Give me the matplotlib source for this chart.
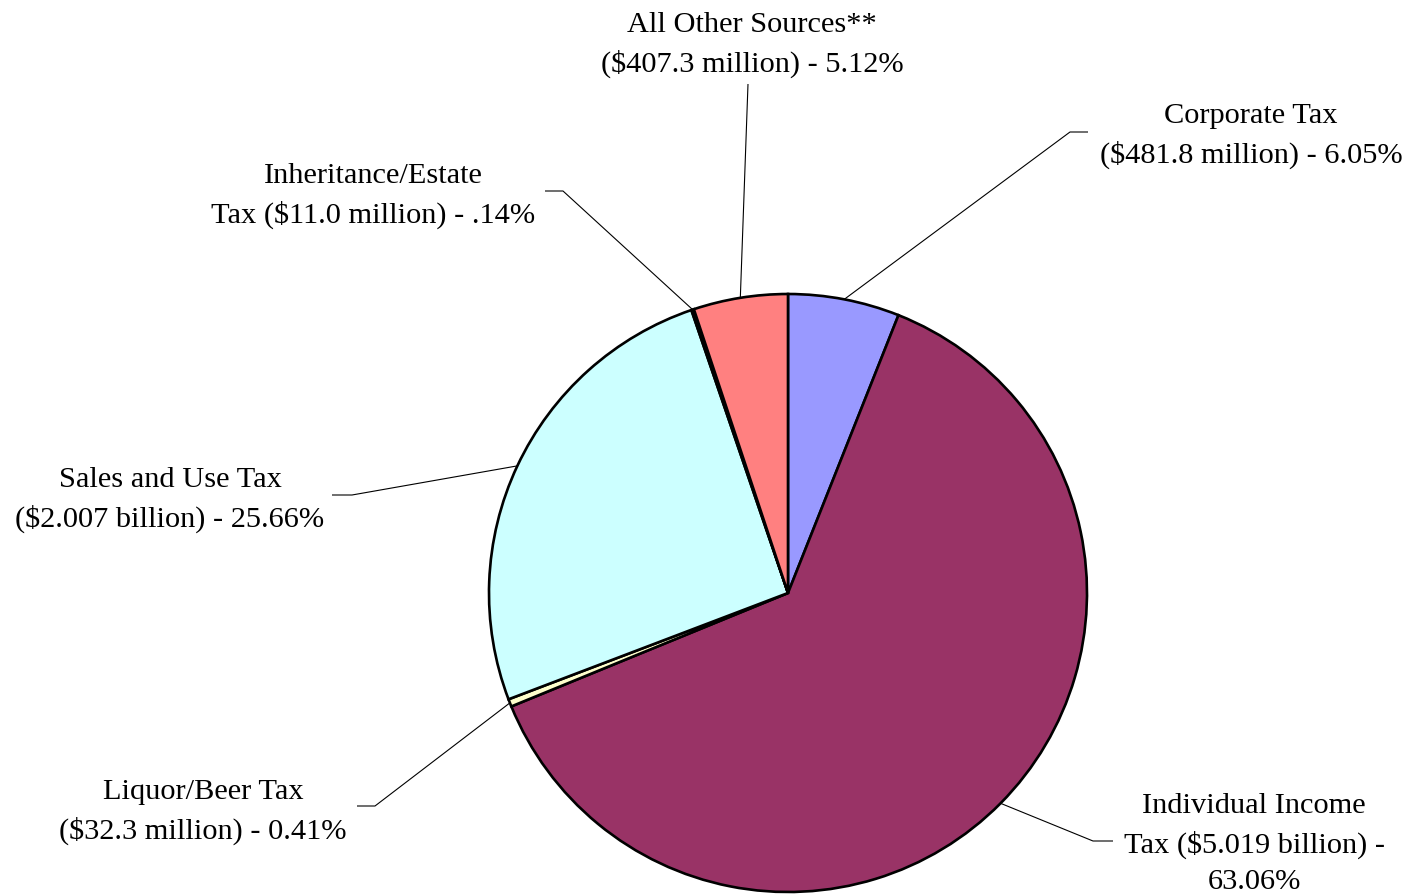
import numpy as np
import matplotlib
matplotlib.use("Agg")
import matplotlib.pyplot as plt

# ---- data ----
categories = ["Corporate Tax", "Individual Income Tax", "Liquor/Beer Tax",
              "Sales and Use Tax", "Inheritance/Estate Tax", "All Other Sources**"]
percents = [6.05, 63.06, 0.41, 25.66, 0.14, 5.12]
label_texts = [
    "Corporate Tax\n($481.8 million) - 6.05%",
    "Individual Income\nTax ($5.019 billion) -\n63.06%",
    "Liquor/Beer Tax\n($32.3 million) - 0.41%",
    "Sales and Use Tax\n($2.007 billion) - 25.66%",
    "Inheritance/Estate\nTax ($11.0 million) - .14%",
    "All Other Sources**\n($407.3 million) - 5.12%",
]
colors = ["#9999FF", "#993366", "#FFFFCC", "#CCFFFF", "#660066", "#FF8080"]

# ---- layout (pixel coordinates, y from top) ----
W, H = 1408, 895
center_px = (788, 594)
radius_px = 299
label_pos = [(1251, 136), (1254, 844), (203, 812), (170, 500), (373, 196), (752, 45)]
elbows = [[(1070, 133), (1088, 133)],
          [(1093, 842), (1113, 842)],
          [(375, 807), (357, 807)],
          [(352, 496), (332, 496)],
          [(563, 192), (545, 192)],
          [(748, 85)]]

plt.rcParams['font.family'] = ['Liberation Serif', 'DejaVu Serif']

fig = plt.figure(figsize=(W / 100, H / 100), dpi=100)
ax = fig.add_axes([0, 0, 1, 1])

cx, cy = center_px[0], H - center_px[1]
wedges, _ = ax.pie(percents, colors=colors, startangle=90, counterclock=False,
                   center=(cx, cy), radius=radius_px, frame=True,
                   wedgeprops=dict(edgecolor='black', linewidth=1.9))
ax.set_xlim(0, W)
ax.set_ylim(0, H)
ax.set_aspect('equal')
ax.axis('off')

for w, txt, (lx, ly), elb in zip(wedges, label_texts, label_pos, elbows):
    mid = np.deg2rad((w.theta1 + w.theta2) / 2)
    sx = cx + radius_px * np.cos(mid)
    sy = cy + radius_px * np.sin(mid)
    xs = [sx] + [p[0] for p in elb]
    ys = [sy] + [H - p[1] for p in elb]
    ax.plot(xs, ys, color='black', linewidth=0.8, solid_capstyle='butt')
    ax.text(lx, H - ly, txt, ha='center', va='center', multialignment='center',
            fontsize=21.9, linespacing=1.53, color='black')

fig.savefig("out.png", dpi=100)
